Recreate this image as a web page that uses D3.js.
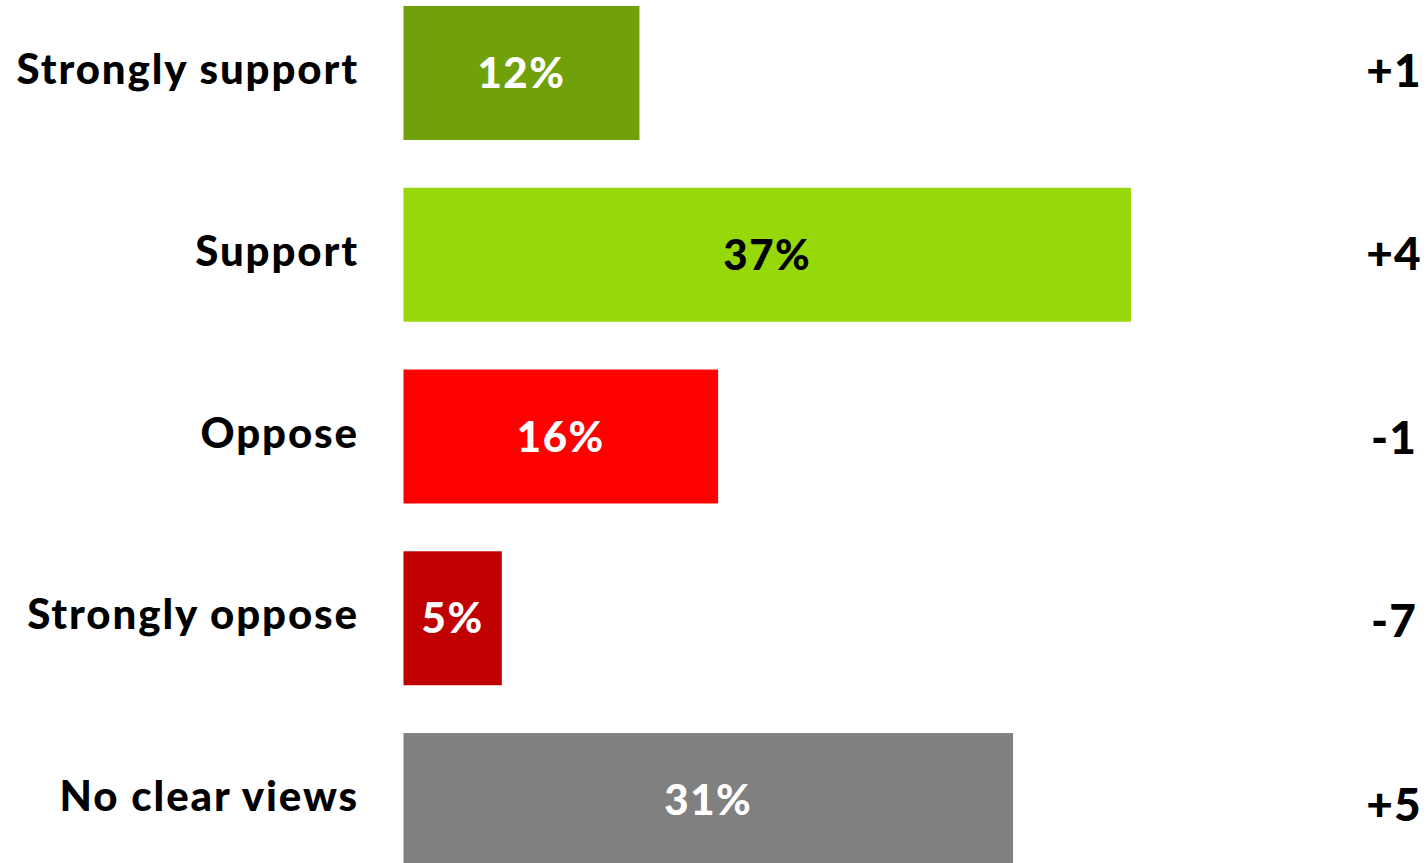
<!DOCTYPE html>
<html>
<head>
<meta charset="utf-8">
<script src="https://cdn.jsdelivr.net/npm/d3@7"></script>
<style>
  html, body { margin: 0; padding: 0; background: #ffffff; }
  svg { display: block; }
  text { font-family: Lato, "Open Sans", sans-serif; font-weight: 900; }
</style>
</head>
<body>
<svg id="chart" width="1427" height="863"></svg>
<script>
// Survey answers, share of respondents and change since last wave
const categories = ["Strongly support", "Support", "Oppose", "Strongly oppose", "No clear views"];
const shares = [12, 37, 16, 5, 31];
const changes = ["+1", "+4", "-1", "-7", "+5"];
const barColors = ["#70a00a", "#96d80a", "#ff0000", "#c00000", "#808080"];
const valueColors = ["#ffffff", "#000000", "#ffffff", "#ffffff", "#ffffff"];

const svg = d3.select("#chart");

const y = d3.scaleBand()
  .domain(categories)
  .range([6, 867])
  .paddingInner(0.263)
  .paddingOuter(0);

const x = d3.scaleLinear()
  .domain([0, 40])
  .range([403.5, 1190]);

const yChange = d3.scalePoint()
  .domain(categories)
  .range([70, 804]);

const rows = categories.map((c, i) => ({
  cat: c, share: shares[i], change: changes[i],
  color: barColors[i], textColor: valueColors[i]
}));

// bars
svg.selectAll("rect.bar")
  .data(rows)
  .join("rect")
  .attr("class", "bar")
  .attr("x", x(0))
  .attr("y", d => y(d.cat))
  .attr("width", d => x(d.share) - x(0))
  .attr("height", y.bandwidth())
  .attr("fill", d => d.color);

// value labels inside bars
svg.selectAll("text.value")
  .data(rows)
  .join("text")
  .attr("class", "value")
  .attr("x", d => (x(0) + x(d.share)) / 2)
  .attr("y", d => y(d.cat) + y.bandwidth() / 2)
  .attr("dy", "0.36em")
  .attr("text-anchor", "middle")
  .attr("font-size", 42)
  .attr("letter-spacing", 1.5)
  .attr("fill", d => d.textColor)
  .text(d => d.share + "%");

// category labels
svg.selectAll("text.cat")
  .data(rows)
  .join("text")
  .attr("class", "cat")
  .attr("x", 359)
  .attr("y", d => y(d.cat) + y.bandwidth() / 2 - 4)
  .attr("dy", "0.36em")
  .attr("text-anchor", "end")
  .attr("font-size", 42)
  .attr("letter-spacing", 1.9)
  .attr("fill", "#000000")
  .text(d => d.cat);

// change labels
svg.selectAll("text.change")
  .data(rows)
  .join("text")
  .attr("class", "change")
  .attr("x", 1394)
  .attr("y", d => yChange(d.cat))
  .attr("dy", "0.36em")
  .attr("text-anchor", "middle")
  .attr("font-size", 46)
  .attr("letter-spacing", 1)
  .attr("fill", "#000000")
  .text(d => d.change);
</script>
</body>
</html>
